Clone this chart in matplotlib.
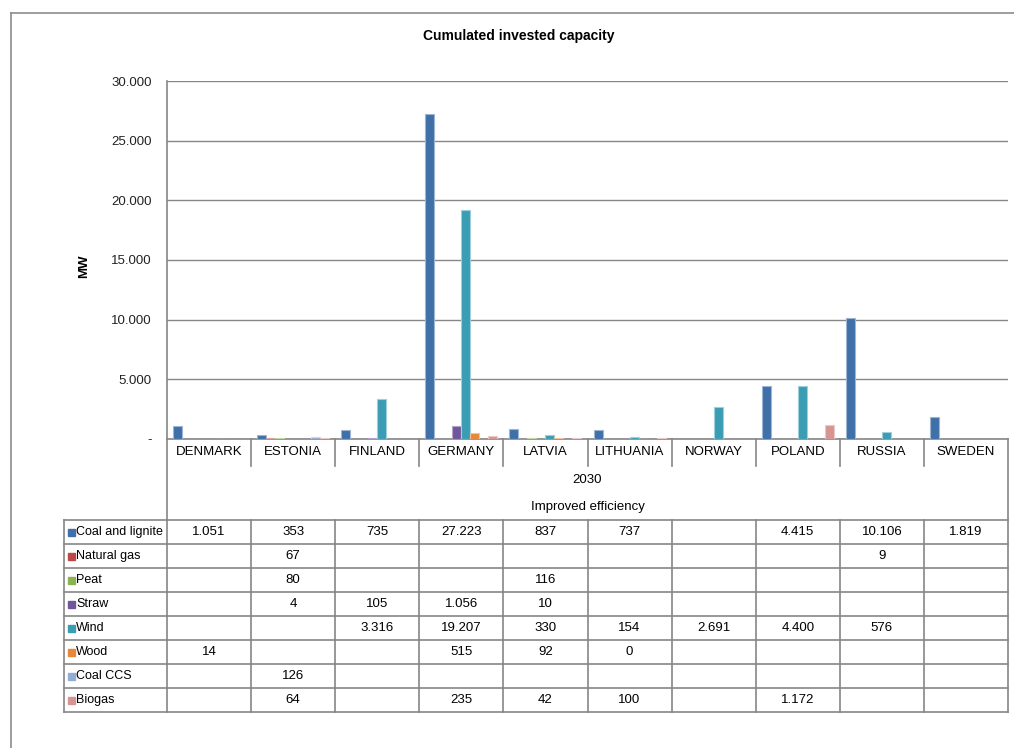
import matplotlib
matplotlib.use('Agg')
import matplotlib.pyplot as plt
from matplotlib.lines import Line2D
from matplotlib.patches import Rectangle
import matplotlib.transforms as mtransforms

plt.rcParams['font.family'] = ['Liberation Sans', 'DejaVu Sans']

# data (MW, 2030, improved efficiency)
countries = ['DENMARK', 'ESTONIA', 'FINLAND', 'GERMANY', 'LATVIA',
             'LITHUANIA', 'NORWAY', 'POLAND', 'RUSSIA', 'SWEDEN']
coal_lignite = [1051, 353, 735, 27223, 837, 737, None, 4415, 10106, 1819]
natural_gas = [None, 67, None, None, None, None, None, None, 9, None]
peat = [None, 80, None, None, 116, None, None, None, None, None]
straw = [None, 4, 105, 1056, 10, None, None, None, None, None]
wind = [None, None, 3316, 19207, 330, 154, 2691, 4400, 576, None]
wood = [14, None, None, 515, 92, 0, None, None, None, None]
coal_ccs = [None, 126, None, None, None, None, None, None, None, None]
biogas = [None, 64, None, 235, 42, 100, None, 1172, None, None]

series_names = ['Coal and lignite', 'Natural gas', 'Peat', 'Straw', 'Wind',
                'Wood', 'Coal CCS', 'Biogas']
series_vals = [coal_lignite, natural_gas, peat, straw, wind, wood, coal_ccs, biogas]
colors = ['#3F70A8', '#B94A48', '#8DB254', '#71579A', '#3B9DB3',
          '#E5883B', '#93AED4', '#D69593']
edges = ['#9db6d6', '#d9a3a2', '#c3d8a6', '#b3a5c9', '#9dd0dc',
         '#f2c39c', '#c8d7ea', '#ebc9c8']
yticks = [0, 5000, 10000, 15000, 20000, 25000, 30000]

W, H = 1014, 748
fs = 9.5
fig = plt.figure(figsize=(W / 100, H / 100), dpi=100)


def fx(px):
    return px / W


def fy(py):
    return 1 - py / H


gray = '#868686'

# outer chart border (runs off the image right/bottom)
fig.add_artist(Line2D([fx(11), fx(11)], [fy(13), 0], color='#8c8c8c', lw=1.2))
fig.add_artist(Line2D([fx(11), 1], [fy(13), fy(13)], color='#8c8c8c', lw=1.2))

ax_l, ax_r, ax_t, ax_b = 167, 1008, 81, 439
ax = fig.add_axes([fx(ax_l), fy(ax_b), fx(ax_r - ax_l), (ax_b - ax_t) / H])

n = len(series_vals)
bw = 9 / 84.1
for k, (vals, c, ec) in enumerate(zip(series_vals, colors, edges)):
    xs = [i + (k - (n - 1) / 2) * bw for i, v in enumerate(vals) if v is not None]
    hs = [v for v in vals if v is not None]
    ax.bar(xs, hs, width=bw, color=c, edgecolor=ec, linewidth=0.8, zorder=3)

ax.set_xlim(-0.5, len(countries) - 0.5)
ax.set_ylim(0, 30000)
ax.set_xticks([])
ax.set_yticks(yticks)
ax.set_yticklabels(['-' if t == 0 else f'{t:,}'.replace(',', '.') for t in yticks],
                   fontsize=fs, color='#222222')
ax.tick_params(axis='y', length=0, pad=11)
ax.yaxis.grid(True, color=gray, lw=1)
ax.set_axisbelow(True)
for s in ['top', 'right']:
    ax.spines[s].set_visible(False)
ax.spines['left'].set_color(gray)
ax.spines['bottom'].set_color(gray)
ax.spines['left'].set_linewidth(1.2)
ax.spines['bottom'].set_linewidth(1.2)

ax.set_ylabel('MW', fontsize=fs, fontweight='bold')
ax.yaxis.set_label_coords((90 - ax_l) / (ax_r - ax_l), (ax_b - 266) / (ax_b - ax_t))

fig.text(fx(519), fy(36), 'Cumulated invested capacity', ha='center', va='center',
         fontsize=10, fontweight='bold')

# x in data units, y in figure pixels
trans = mtransforms.blended_transform_factory(ax.transData, fig.transFigure)


def vline(x, py0, py1):
    ax.add_line(Line2D([x, x], [fy(py0), fy(py1)], transform=trans, color=gray,
                       lw=1.2, clip_on=False))


nc = len(countries)
# category label row
for i, name in enumerate(countries):
    ax.text(i, fy(452), name, transform=trans, ha='center', va='center', fontsize=fs)
for i in range(1, nc):
    vline(i - 0.5, ax_b, 466)

ax.text((nc - 1) / 2, fy(480), '2030', transform=trans, ha='center', va='center', fontsize=fs)
ax.text((nc - 1) / 2, fy(507), 'Improved efficiency', transform=trans, ha='center',
        va='center', fontsize=fs)

# data table
row_top = 520
row_h = 24
tbl_left = 64
vline(-0.5, ax_b, row_top + row_h * n)
vline(nc - 0.5, ax_b, row_top + row_h * n)
for i in range(1, nc):
    vline(i - 0.5, row_top, row_top + row_h * n)
for r in range(n + 1):
    py = row_top + r * row_h
    fig.add_artist(Line2D([fx(tbl_left), fx(ax_r)], [fy(py), fy(py)], color=gray, lw=1.2))
fig.add_artist(Line2D([fx(tbl_left), fx(tbl_left)], [fy(row_top), fy(row_top + row_h * n)],
                      color=gray, lw=1.2))

for r, (name, vals, c) in enumerate(zip(series_names, series_vals, colors)):
    cy = row_top + r * row_h + row_h / 2
    fig.add_artist(Rectangle((fx(68), fy(cy + 3.5)), fx(7), 7 / H, color=c))
    fig.text(fx(76), fy(cy), name, ha='left', va='center', fontsize=9)
    for i, v in enumerate(vals):
        if v is None:
            continue
        ax.text(i, fy(cy), f'{v:,}'.replace(',', '.'), transform=trans,
                ha='center', va='center', fontsize=fs)

fig.savefig('out.png', dpi=100)
